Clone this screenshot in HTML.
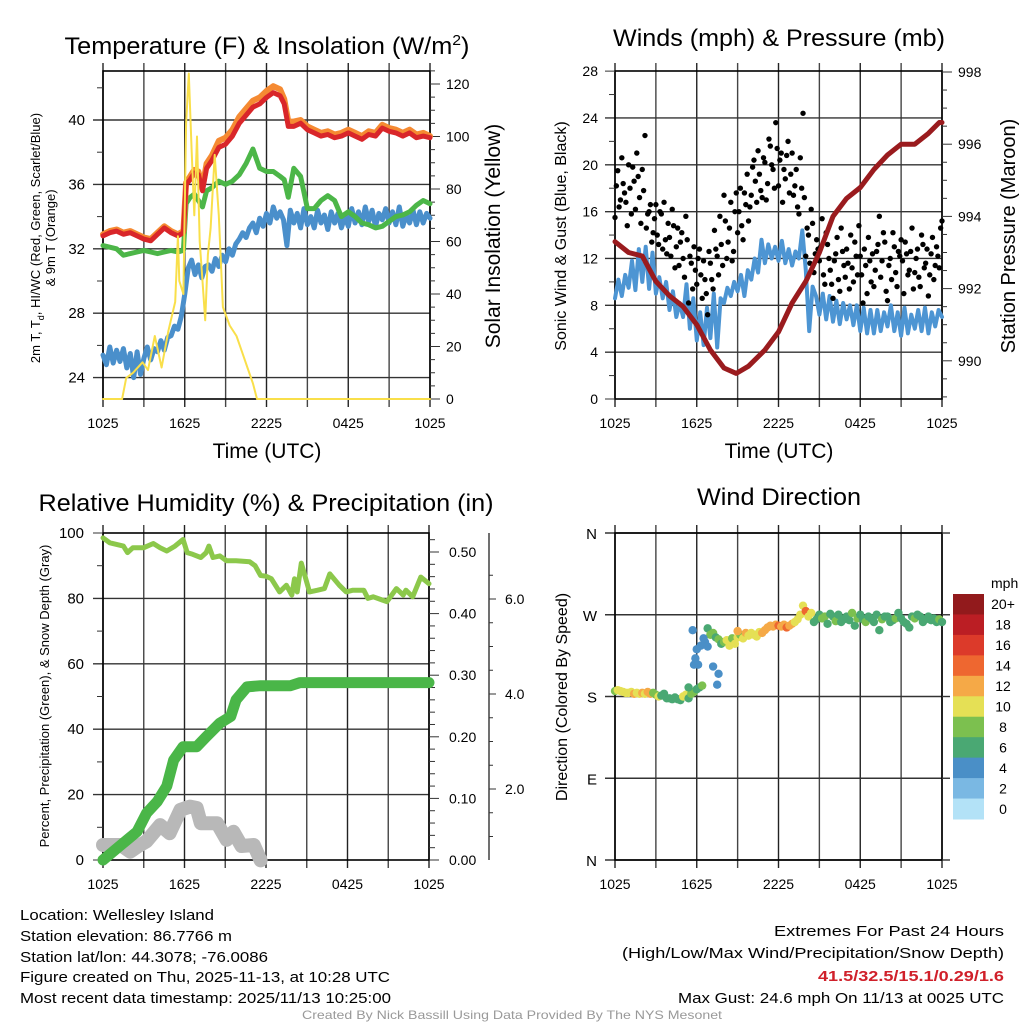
<!DOCTYPE html>
<html><head><meta charset="utf-8"><style>
html,body{margin:0;padding:0;background:#fff;}
svg{display:block;font-family:"Liberation Sans",Arial,sans-serif;}
</style></head><body>
<svg id="c" width="1024" height="1024" viewBox="0 0 1024 1024" xmlns="http://www.w3.org/2000/svg">
<rect x="0" y="0" width="1024" height="1024" fill="#fff"/>
<g id="layer"></g>
<!-- titles -->
<text x="267" y="54" font-size="24" text-anchor="middle" textLength="405" lengthAdjust="spacingAndGlyphs">Temperature (F) &amp; Insolation (W/m<tspan dy="-9" font-size="15">2</tspan><tspan dy="9">)</tspan></text>
<text x="779" y="46" font-size="24" text-anchor="middle" textLength="332" lengthAdjust="spacingAndGlyphs">Winds (mph) &amp; Pressure (mb)</text>
<text x="266" y="511" font-size="24" text-anchor="middle" textLength="455" lengthAdjust="spacingAndGlyphs">Relative Humidity (%) &amp; Precipitation (in)</text>
<text x="779" y="505" font-size="24" text-anchor="middle" textLength="164" lengthAdjust="spacingAndGlyphs">Wind Direction</text>
<text x="267" y="458" font-size="21" text-anchor="middle">Time (UTC)</text>
<text x="779" y="458" font-size="21" text-anchor="middle">Time (UTC)</text>
<text transform="translate(40,238) rotate(-90)" font-size="13" text-anchor="middle">2m T, T<tspan dy="4" font-size="9">d</tspan><tspan dy="-4">, HI/WC (Red, Green, Scarlet/Blue)</tspan></text>
<text transform="translate(55,238) rotate(-90)" font-size="13" text-anchor="middle">&amp; 9m T (Orange)</text>
<text transform="translate(500,236) rotate(-90)" font-size="21" text-anchor="middle">Solar Insolation (Yellow)</text>
<text transform="translate(566,236) rotate(-90)" font-size="16" text-anchor="middle">Sonic Wind &amp; Gust (Blue, Black)</text>
<text transform="translate(1015,236) rotate(-90)" font-size="20" text-anchor="middle">Station Pressure (Maroon)</text>
<text transform="translate(49,696) rotate(-90)" font-size="13" text-anchor="middle">Percent, Precipitation (Green), &amp; Snow Depth (Gray)</text>
<text transform="translate(567,697) rotate(-90)" font-size="16" text-anchor="middle">Direction (Colored By Speed)</text>
<!-- footer text -->
<g font-size="15">
<text x="20" y="920" textLength="194" lengthAdjust="spacingAndGlyphs">Location: Wellesley Island</text>
<text x="20" y="941" textLength="212" lengthAdjust="spacingAndGlyphs">Station elevation: 86.7766 m</text>
<text x="20" y="962" textLength="248" lengthAdjust="spacingAndGlyphs">Station lat/lon: 44.3078; -76.0086</text>
<text x="20" y="982" textLength="370" lengthAdjust="spacingAndGlyphs">Figure created on Thu, 2025-11-13, at 10:28 UTC</text>
<text x="20" y="1003" textLength="371" lengthAdjust="spacingAndGlyphs">Most recent data timestamp: 2025/11/13 10:25:00</text>
</g>
<g font-size="15" text-anchor="end">
<text x="1004" y="936" textLength="230" lengthAdjust="spacingAndGlyphs">Extremes For Past 24 Hours</text>
<text x="1004" y="958" textLength="382" lengthAdjust="spacingAndGlyphs">(High/Low/Max Wind/Precipitation/Snow Depth)</text>
<text x="1004" y="981" fill="#d0202a" font-weight="bold" textLength="186" lengthAdjust="spacingAndGlyphs">41.5/32.5/15.1/0.29/1.6</text>
<text x="1004" y="1003" textLength="326" lengthAdjust="spacingAndGlyphs">Max Gust: 24.6 mph On 11/13 at 0025 UTC</text>
</g>
<text x="512" y="1019" font-size="12" fill="#999" text-anchor="middle" textLength="420" lengthAdjust="spacingAndGlyphs">Created By Nick Bassill Using Data Provided By The NYS Mesonet</text>
</svg>
<script>
// ---------- Temperature panel data ----------
const tempTimes = [0,0.5,1,1.5,2,2.5,3,3.5,4,4.5,5,5.5,5.9,6.1,6.4,6.7,7,7.3,7.6,8,8.5,9,9.5,10,10.5,11,11.5,12,12.5,13,13.3,13.6,14,14.5,15,15.5,16,16.5,17,17.5,18,18.5,19,19.5,20,20.5,21,21.5,22,22.5,23,23.5,24];
const temp2m = [32.8,33.0,33.1,32.9,33.0,32.8,32.6,32.5,32.9,33.3,33.0,32.8,33.0,36.0,36.3,36.7,36.6,35.6,37.0,37.5,38.3,38.5,39.0,39.8,40.3,40.8,41.0,41.4,41.7,41.5,41.0,39.6,39.6,39.8,39.4,39.2,39.0,39.1,38.9,39.0,39.2,39.0,38.8,39.1,39.0,39.5,39.3,39.2,39.0,39.2,38.9,39.0,38.9];
const temp9m = [32.9,33.1,33.2,33.0,33.1,32.9,32.7,32.6,33.0,33.4,33.1,32.9,33.1,36.1,36.5,36.9,36.8,35.8,37.3,37.8,38.7,38.9,39.4,40.2,40.7,41.2,41.4,41.8,42.1,41.9,41.3,39.9,39.9,40.0,39.6,39.4,39.2,39.3,39.1,39.2,39.4,39.2,39.0,39.3,39.2,39.7,39.5,39.4,39.2,39.4,39.1,39.2,39.0];
const dewpoint = [32.2,32.1,32.0,31.6,31.7,31.8,31.9,31.8,31.7,31.8,31.9,31.8,31.9,34.8,35.2,35.4,35.0,34.6,35.6,35.8,36.2,36.0,36.2,36.6,37.3,38.2,37.0,36.8,36.8,36.5,36.3,35.2,37.0,36.5,34.5,34.5,35.0,35.3,35.0,34.0,34.3,34.0,33.6,33.5,33.3,33.4,33.7,34.0,34.1,34.3,34.7,35.0,34.8];
const windChill = [25.4,24.8,25.9,24.9, 25.7,25.0,25.8,24.6, 25.5,24.0,25.6,24.2, 25.2,25.9,25.1,25.8, 25.6,26.3,25.7,26.5, 26.6,27.2,27.0,27.8, 29.2,30.8,31.3,30.4, 31.0,30.2,30.9,31.0, 30.6,31.4,30.9,31.6, 31.2,32.0,31.6,32.3, 32.6,33.0,32.7,33.3, 33.6,33.0,33.9,33.4, 34.2,33.6,34.6,33.9, 34.3,33.8,32.2,34.4, 33.6,34.2,33.3,34.5, 33.5,34.0,33.3,34.4, 33.6,34.1,33.2,34.3, 33.6,34.2,33.3,34.0, 33.4,34.5,33.6,34.3, 33.5,34.6,33.7,34.4, 33.4,34.2,33.8,34.5, 33.6,34.3,33.5,34.6, 33.4,34.1,33.6,34.4, 33.5,34.3,33.6,34.2, 33.9];
const solarTimes = [0,1.4,1.7,2.2,2.9,3.3,3.8,4.3,4.8,5.3,5.5,5.6,5.9,6.1,6.3,6.5,6.7,6.9,7.1,7.3,7.5,7.7,7.9,8.2,8.5,8.8,9.3,9.8,10.2,10.6,11.0,11.3,24];
const solarVals = [0,0,8,10,14,11,24,12,26,37,62,45,40,105,124,95,70,100,60,45,30,55,65,93,70,35,28,24,18,12,6,0,0];
// ---------- Winds panel data ----------
const pressTimes = [0,1,2,3,4,5,6,7,8,8.9,9.8,11,12,13,14,15,16,17,18,19,20,21,22,23,23.8,24];
const pressVals = [993.3,993.0,992.9,992.2,991.8,991.5,991.0,990.3,989.8,989.65,989.85,990.3,990.8,991.6,992.2,993.0,994.0,994.5,994.8,995.3,995.7,996.0,996.0,996.3,996.6,996.6];
const windVals = [8.6,10.2,8.8,10.6, 9.5,11.8,9.3,12.8, 10.0,13.0,9.4,12.5, 9.0,10.4,8.6,10.0, 7.6,9.2,7.0,8.2, 7.0,9.8,6.0,8.6, 5.0,7.4,4.6,7.8, 5.2,9.0,4.4,8.6, 8.2,9.5,8.8,10.0, 9.2,10.6,8.8,11.0, 10.2,12.0,10.8,13.6, 11.6,13.2,12.0,13.0, 11.8,13.5,11.6,12.8, 11.4,12.6,12.0,14.4, 11.0,5.8,9.6,8.8, 7.2,9.0,6.8,8.8, 6.6,8.4,6.4,8.2, 6.8,8.0,6.3,8.0, 5.8,7.8,5.6,7.6, 5.6,7.6,5.8,7.4, 6.2,8.0,5.8,7.4, 5.4,7.8,5.6,7.2, 6.0,7.6,5.8,7.8, 5.6,7.4,6.2,7.6, 7.0];
const gustVals = [15.5,19.5,17.0,18.4,16.8, 20.0,15.8,18.6,21.0,17.2, 19.6,22.5,15.8,16.6,14.2, 16.6,13.2,15.8,16.8,12.4, 13.8,16.2,11.2,14.6,13.4, 12.0,15.6,8.2,11.6,13.0, 9.8,12.8,8.6,10.2,7.2, 11.6,9.4,12.8,10.6,13.2, 17.4,12.0,14.6,11.8,16.0, 14.2,18.0,13.6,16.6,15.2, 17.4,20.4,16.8,19.2,17.2, 20.2,18.4,21.6,19.6,23.6, 18.2,21.0,19.6,20.8,17.6, 21.0,18.2,16.4,20.6,24.4, 12.2,14.0,16.2,10.8,13.6, 11.8,15.4,9.8,13.2,11.0, 8.6,12.4,10.2,14.6,11.4, 12.8,9.4,11.2,13.4,10.6, 12.2,8.2,11.4,13.8,10.0, 9.6,12.6,15.6,11.8,13.4, 8.4,12.0,14.2,10.8,12.6, 13.6,9.0,12.4,11.0,14.6, 10.8,12.8,9.6,13.2,11.6, 8.8,12.4,10.2,13.0,11.2, 15.2];
const gustVals2 = [18.2,16.4,20.6,17.6,14.8, 18.0,19.8,16.2,19.0,15.0, 17.8,14.6,16.0,13.4,15.4, 14.0,16.0,12.8,13.6,15.0, 12.2,14.8,13.0,11.4,14.2, 10.4,13.6,12.2,9.4,11.0, 12.0,10.6,11.8,9.0,12.6, 10.2,14.4,12.2,15.6,11.4, 15.2,13.4,16.8,12.6,17.6, 16.0,14.8,17.6,19.2,16.4, 19.8,18.6,21.2,17.8,20.6, 17.0,22.2,20.0,18.0,21.4, 20.4,16.8,18.8,22.0,19.2, 17.4,19.6,15.8,18.0,17.2, 14.6,11.6,15.0,12.4,12.8, 13.0,10.6,14.2,12.0,9.8, 11.8,13.8,9.2,12.6,10.4, 11.6,14.0,10.0,12.2,14.8, 10.6,12.8,9.0,11.8,12.4, 11.0,13.2,10.4,14.2,9.2, 11.4,10.2,13.0,9.6,12.2, 11.8,13.4,10.6,12.6,9.4, 12.0,10.4,14.0,11.2,12.8, 10.6,13.8,11.4,12.2,14.6];
// ---------- Humidity panel data ----------
const rhTimes = [0,0.5,1,1.5,1.8,2.2,3,3.7,4.2,4.7,5.3,5.9,6.2,6.6,7.2,7.6,7.8,8.1,8.6,9.1,9.8,10.8,11.2,11.6,12,12.4,13,13.5,13.9,14.1,14.3,14.6,15.2,15.8,16.3,16.7,17.4,17.9,18.4,19.2,19.5,19.9,20.9,21.6,22.1,22.3,22.8,23.4,24];
const rhVals = [98.5,97,96.5,96,94,95.5,95.5,96.8,95.5,94.5,96,98,94,93.5,92.5,94,96,92.5,93,91.5,91.5,91.2,90,87,86.8,86,82,84,81,86,82,90.8,82,82.5,83,87.5,84,82,82.5,82.5,80,80.5,79,83,81,82.5,80.5,86.5,84.5];
const precipTimes = [0,1.3,2.5,3.2,4.0,4.7,5.2,5.9,6.9,7.6,8.6,9.4,9.8,10.6,11.6,13.8,14.5,24];
const precipVals = [0,0.024,0.046,0.076,0.095,0.12,0.162,0.184,0.184,0.2,0.222,0.233,0.26,0.281,0.283,0.283,0.288,0.288];
const snowTimes = [0,1.3,2.0,2.6,3.2,4.2,4.9,5.7,6.4,6.9,7.2,8.4,9.1,9.6,10.2,11.1,11.6];
const snowVals = [0.82,0.82,0.68,0.8,0.9,1.24,1.07,1.56,1.63,1.6,1.28,1.28,0.93,1.1,0.8,0.82,0.5];
// ---------- Wind direction panel data ----------
const dirVals = [186,187,186,185,184, 184,185,183,184,183, 184,183,185,183,184, 182,180,181,183,178, 178,177,179,177,176, 180,182,178,183,185, 188,190,192,240,255, 248,250,245,243,238, 240,242,236,244,238, 245,248,244,250,247, 250,248,246,251,250, 253,256,258,257,259, 258,257,259,256,258, 260,262,265,270,280, 274,268,272,262,265, 270,266,268,260,271, 268,263,270,262,265, 268,264,272,258,266, 270,265,262,268,266, 262,270,253,265,268, 268,262,264,266,272, 266,262,260,256,268, 266,270,268,262,265, 268,264,266,262,265, 262];
const dirSpeeds = [9,10,10.5,10,11, 10,11,12,10,10.5, 12.5,11,13,12,9, 8,10,7,7,6.5, 7,6.5,6,7,6.5, 10,10.5,7,8,9, 7,6.5,8,5,7, 8,9,7,8,7, 9,10,11,8,10, 10,8,10,12,11, 10,10.5,11,10,12, 12.5,13,13,12,13, 14.5,13,12,14.5,13, 12,11,10,10,10.5, 14.5,11,10,7,6, 7,8,8,7,7, 7,8,7,7,6, 6,7,8,7,8, 7,6,8,7,7, 7,7,6,8,7, 7,6,7,8,7, 7,6,7,6,7, 8,7,7,6,7, 7,7,6,7,8, 7];
const extraDirTimes = [5.4,5.7,5.8,5.9,6.0,6.1,6.3,6.5,6.8,7.2,7.5,7.6,9.0];
const extraDirVals = [190,253,215,222,232,215,236,244,235,213,193,205,252];
const extraDirSpeeds = [6,4,4,4,4,4,4,4,5,4,4,4,12];
const speedLabels = ["20+","18","16","14","12","10","8","6","4","2","0"];
const speedColors = ["#b3e2f7","#7ab8e3","#4a8fc7","#4aa873","#7cc04f","#e5e055","#f5a947","#ee6730","#dc3a2a","#bb1e24","#921a1c"];
const timeLabels = ["1025","1625","2225","0425","1025"];

const NS="http://www.w3.org/2000/svg";
const L=document.getElementById('layer');
function mk(tag,attrs,parent){const e=document.createElementNS(NS,tag);for(const k in attrs)e.setAttribute(k,attrs[k]);(parent||L).appendChild(e);return e;}
function txt(x,y,s,size,anchor,parent){const e=mk('text',{x:x,y:y,'font-size':size,'text-anchor':anchor},parent);e.textContent=s;return e;}

function panel(name,x0,x1,y0,y1,hGrid){
  const g=mk('g',{});
  
  
  const step=(x1-x0)/8;
  for(let i=0;i<=8;i++){const x=x0+i*step;
    mk('line',{x1:x,y1:y0-8,x2:x,y2:y1+8,stroke:(i%2?'#444':'#222'),'stroke-width':1.4},g);}
  hGrid.forEach(y=>mk('line',{x1:x0-10,y1:y,x2:x1,y2:y,stroke:'#333','stroke-width':1.4},g));
  mk('rect',{x:x0,y:y0,width:x1-x0,height:y1-y0,fill:'none',stroke:'#000','stroke-width':1.6},g);
  for(let i=0;i<timeLabels.length;i++){
    const t=txt(x0+i*2*step,y1+29,timeLabels[i],14,'middle',g);
    
    
  }
  return g;
}
function xs(x0,x1){return t=>x0+t/24*(x1-x0);}
function line(xsF,ysF,times,vals,color,w,name,cap){
  let d='';for(let i=0;i<vals.length;i++){d+=(i?'L':'M')+xsF(times[i]).toFixed(1)+','+ysF(vals[i]).toFixed(1);}
  const p=mk('path',{d:d,fill:'none',stroke:color,'stroke-width':w,'stroke-linejoin':'round','stroke-linecap':cap||'round'});
  
  
  return p;
}
const stepTimes=(n,dt)=>Array.from({length:n},(_,i)=>i*dt);

// ===== Panel 1 =====
{
const x0=103,x1=430,y0=71,y1=399;
const X=xs(x0,x1), Y=v=>120+(40-v)*16.1, YS=v=>399-v*2.625;
panel('temperature',x0,x1,y0,y1,[24,28,32,36,40].map(Y));
const ax=mk('g',{});


for(let v=23;v<=43;v++){ if(v%4===0){txt(85,Y(v)+5,String(v),15,'end',ax);} else if(v%2===0){mk('line',{x1:97,y1:Y(v),x2:x0,y2:Y(v),stroke:'#333','stroke-width':1},ax);} }
const ax2=mk('g',{});


for(let v=0;v<=125;v+=5){const y=YS(v);const maj=v%20===0;
  mk('line',{x1:x1,y1:y,x2:x1+(maj?10:5),y2:y,stroke:'#333','stroke-width':1},ax2);
  if(maj) txt(446,y+5,String(v),14,'start',ax2);}
line(X,Y,stepTimes(windChill.length,0.25),windChill,'#4a8fcb',5,'wind-chill-line');
line(X,Y,tempTimes,dewpoint,'#4cb648',5,'dewpoint-line');
line(X,Y,tempTimes,temp9m,'#f58a32',6,'temp-9m-line');
line(X,Y,tempTimes,temp2m,'#d9262a',5,'temp-2m-line');
line(X,YS,solarTimes,solarVals,'#f9df4a',2,'solar-insolation-line');
}
// ===== Panel 2 =====
{
const x0=615,x1=942,y0=71,y1=399;
const X=xs(x0,x1), Y=v=>399-v*11.71, YP=p=>72+(998-p)*36.1;
panel('winds',x0,x1,y0,y1,[4,8,12,16,20,24].map(Y));
const ax=mk('g',{});


for(let v=0;v<=28;v+=2){const y=Y(v); if(v%4===0){txt(598,y+5,String(v),14,'end',ax); if(v===0||v===28) mk('line',{x1:605,y1:y,x2:x0,y2:y,stroke:'#333','stroke-width':1},ax);} else mk('line',{x1:609,y1:y,x2:x0,y2:y,stroke:'#333','stroke-width':1},ax);}
const ax2=mk('g',{});


for(let p=989;p<=998;p+=0.5){const y=YP(p);const maj=Math.abs(p%2)<0.01;
  mk('line',{x1:x1,y1:y,x2:x1+(maj?10:5),y2:y,stroke:'#333','stroke-width':1},ax2);
  if(maj) txt(958,y+5,String(p),14,'start',ax2);}
line(X,Y,stepTimes(windVals.length,0.25),windVals,'#4d95d3',4,'sonic-wind-line');
const gg=mk('g',{});


gustVals.forEach((v,i)=>{const c=mk('circle',{cx:X(i*0.2),cy:Y(v),r:2.7,fill:'#000'},gg);
  
  });
gustVals2.forEach((v,i)=>{const c=mk('circle',{cx:X(0.1+i*0.2),cy:Y(v),r:2.7,fill:'#000'},gg);
  
  });
line(X,YP,pressTimes,pressVals,'#9a1b1e',5,'pressure-line');
}
// ===== Panel 3 =====
{
const x0=103,x1=429,y0=533,y1=860;
const X=xs(x0,x1), Y=v=>860-v*3.27, YR=v=>860-v*616, YSn=v=>884-v*47.5;
panel('humidity',x0,x1,y0,y1,[20,40,60,80].map(Y));
const ax=mk('g',{});


for(let v=0;v<=100;v+=10){const y=Y(v); if(v%20===0){txt(84,y+5,String(v),15,'end',ax); if(v===0||v===100) mk('line',{x1:93,y1:y,x2:x0,y2:y,stroke:'#333','stroke-width':1},ax);} else mk('line',{x1:97,y1:y,x2:x0,y2:y,stroke:'#333','stroke-width':1},ax);}
const ax2=mk('g',{});


for(let k=0;k<=26;k++){const v=k*0.02;const y=YR(v);const maj=k%5===0;
  mk('line',{x1:x1,y1:y,x2:x1+(maj?10:6),y2:y,stroke:'#333','stroke-width':1},ax2);
  if(maj) txt(449,y+5,v.toFixed(2),14,'start',ax2);}
const ax3=mk('g',{});


mk('line',{x1:489,y1:y0,x2:489,y2:y1,stroke:'#333','stroke-width':1.4},ax3);
for(let k=1;k<=13;k++){const v=k*0.5;const y=YSn(v);if(y<y0||y>y1)continue;const maj=k%4===0;
  mk('line',{x1:489,y1:y,x2:489+(maj?7:4),y2:y,stroke:'#333','stroke-width':1},ax3);
  if(maj) txt(505,y+5,v.toFixed(1),14,'start',ax3);}
line(X,YSn,snowTimes,snowVals,'#b8b8b8',14,'snow-depth-line');
line(X,Y,rhTimes,rhVals,'#8cc84b',5,'relative-humidity-line');
line(X,YR,precipTimes,precipVals,'#4ab648',11,'precipitation-line');
}
// ===== Panel 4 =====
{
const x0=615,x1=942,y0=533,y1=860;
const X=xs(x0,x1), Y=d=>860-d*0.9083;
const hy=[0,90,180,270,360].map(Y);
const g=panel('direction',x0,x1,y0,y1,hy);
hy.forEach(y=>mk('line',{x1:x1,y1:y,x2:x1+8,y2:y,stroke:'#333','stroke-width':1.4},g));
["N","E","S","W","N"].forEach((s,i)=>{const t=txt(597,hy[i]+6,s,15,'end',g);
  
  });
const col=s=>speedColors[Math.min(10,Math.floor(s/2))];
const dg=mk('g',{});


dirVals.forEach((d,i)=>{const c=mk('circle',{cx:X(i*0.2),cy:Y(d),r:4.2,fill:col(dirSpeeds[i])},dg);
  
  });
extraDirVals.forEach((d,i)=>{const c=mk('circle',{cx:X(extraDirTimes[i]),cy:Y(d),r:4.2,fill:col(extraDirSpeeds[i])},dg);
  
  });
// colorbar
const cb=mk('g',{});


txt(991,588,'mph',14,'start',cb);
const bh=225/11;
for(let i=0;i<11;i++){const y=594+i*bh;
  mk('rect',{x:953,y:y,width:31,height:bh+0.5,fill:speedColors[10-i]},cb);
  txt(1003,y+bh/2+5,speedLabels[i],14,'middle',cb);}
}
</script>
</body></html>
